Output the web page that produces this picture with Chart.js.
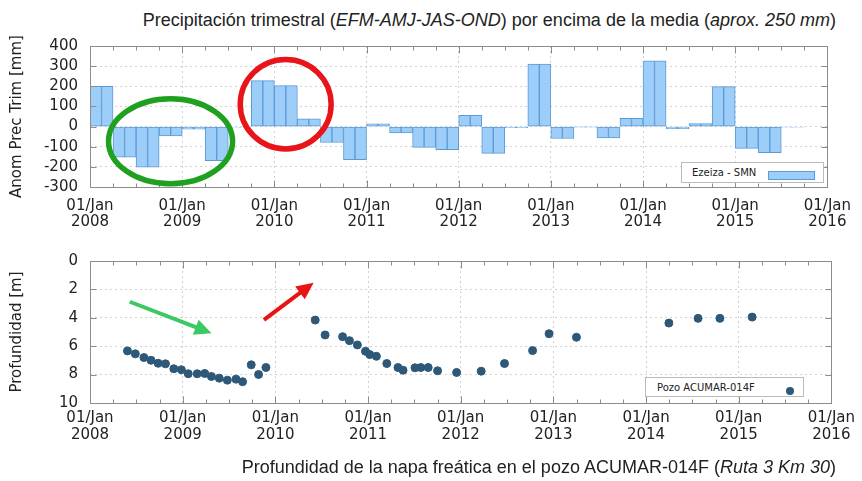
<!DOCTYPE html>
<html><head><meta charset="utf-8">
<script src="https://cdn.jsdelivr.net/npm/chart.js@4/dist/chart.umd.min.js"></script>
<style>
html,body{margin:0;padding:0;background:#fff;}
#wrap{position:relative;width:862px;height:481px;overflow:hidden;}
canvas{position:absolute;left:0;}
.title{position:absolute;right:26px;font-family:"Liberation Sans",Arial,sans-serif;font-size:18px;color:#222;white-space:nowrap;line-height:20px;}
.legend{position:absolute;background:#fff;border:1px solid #bbb;font-family:"DejaVu Sans";font-size:10px;line-height:13px;color:#222;box-sizing:border-box;}
.legend span{position:absolute;}
</style></head>
<body><div id="wrap">
<div class="title" style="top:10px">Precipitación trimestral (<i>EFM-AMJ-JAS-OND</i>) por encima de la media (<i>aprox. 250 mm</i>)</div>
<canvas id="cTop" width="862" height="240" style="top:0"></canvas>
<canvas id="cBot" width="862" height="241" style="top:240px"></canvas>
<div class="legend" style="left:681px;top:162px;width:143px;height:21px;">
  <span style="left:10px;top:3px">Ezeiza - SMN</span>
  <span style="left:86px;top:8px;width:47px;height:9px;background:#9dcdf9;border:1px solid #5b9bd5;box-sizing:border-box"></span>
</div>
<div class="legend" style="left:645px;top:377px;width:159px;height:20px;">
  <span style="left:11px;top:3px">Pozo ACUMAR-014F</span>
  <span style="left:140px;top:9px;width:8px;height:8px;border-radius:50%;background:#2e5878"></span>
</div>
<div class="title" style="top:457px">Profundidad de la napa freática en el pozo ACUMAR-014F (<i>Ruta 3 Km 30</i>)</div>
</div>
<script>
// ---- data ----
const precipQuarters = [
 'EFM 2008','AMJ 2008','JAS 2008','OND 2008',
 'EFM 2009','AMJ 2009','JAS 2009','OND 2009',
 'EFM 2010','AMJ 2010','JAS 2010','OND 2010',
 'EFM 2011','AMJ 2011','JAS 2011','OND 2011',
 'EFM 2012','AMJ 2012','JAS 2012','OND 2012',
 'EFM 2013','AMJ 2013','JAS 2013','OND 2013',
 'EFM 2014','AMJ 2014','JAS 2014','OND 2014',
 'EFM 2015','AMJ 2015','JAS 2015'];
const precipAnomaly = [
 200,-152,-202,-46,
 -13,-169,-3,228,
 203,39,-79,-164,
 13,-31,-103,-115,
 56,-133,-5,310,
 -59,-1,-56,41,
 326,-10,15,198,
 -108,-130,-2];
const wellDates = ['2008-05-28','2008-06-28','2008-08-01','2008-08-29','2008-09-26','2008-10-25','2008-11-27','2008-12-27',
 '2009-01-23','2009-02-27','2009-03-29','2009-04-24','2009-05-25','2009-06-26','2009-07-30','2009-08-25','2009-09-28','2009-10-27','2009-11-25',
 '2010-06-07','2010-07-16','2010-09-23','2010-10-20','2010-11-20','2010-12-22',
 '2011-01-08','2011-02-03','2011-03-16','2011-04-29','2011-05-19','2011-07-05','2011-07-28','2011-08-26','2011-10-02','2011-12-16',
 '2012-03-22','2012-06-22','2012-10-11','2012-12-15','2013-04-02','2014-04-01','2014-07-25','2014-10-19','2015-02-23'];
const wellDepth = [6.33,6.54,6.80,6.99,7.20,7.24,7.59,7.66,
 7.94,7.94,7.92,8.13,8.25,8.39,8.32,8.50,7.31,7.99,7.50,
 4.16,5.21,5.33,5.61,5.91,6.36,
 6.59,6.71,7.22,7.50,7.69,7.52,7.50,7.50,7.73,7.85,
 7.76,7.22,6.31,5.12,5.37,4.37,4.04,4.04,3.95];
const yearTicks = [2008,2009,2010,2011,2012,2013,2014,2015,2016];
const precipTicks = [-300,-200,-100,0,100,200,300,400];
const depthTicks = [0,2,4,6,8,10];

// ---- helpers ----
function quarterStart(label){ const [q,y]=label.split(' '); return +y + ['EFM','AMJ','JAS','OND'].indexOf(q)/4; }
function toYear(s){ const d=new Date(s+'T00:00:00Z'); const y=d.getUTCFullYear();
  const a=Date.UTC(y,0,1), b=Date.UTC(y+1,0,1); return y+(d-a)/(b-a); }

const barData = [];
precipQuarters.forEach((q,i)=>{ const s=quarterStart(q);
  barData.push({x:s+1/16,y:precipAnomaly[i]}); barData.push({x:s+3/16,y:precipAnomaly[i]}); });
const wellData = wellDates.map((d,i)=>({x:toYear(d), y:wellDepth[i]}));

// overlay marks (in data units)
const topOverlays = [
  {kind:'ellipse', x:2008.874, y:-73, rx:0.673, ry:211, color:'#1fa01f'},
  {kind:'ellipse', x:2010.123, y:111, rx:0.493, ry:222, color:'#e8141a'}];
const botOverlays = [
  {kind:'arrow', x0:2008.429, y0:2.87, x1:2009.312, y1:5.09, color:'#3cc864'},
  {kind:'arrow', x0:2009.877, y0:4.15, x1:2010.413, y1:1.53, color:'#e81414'}];

const TICKF = {family:'"DejaVu Sans"', size:15};
const INK = '#222';

const framePlugin = {
  id:'frame',
  afterDatasetsDraw(chart){
    const {ctx, chartArea:a, scales:{x,y}} = chart;
    ctx.save(); ctx.strokeStyle='#8c8c8c'; ctx.lineWidth=1;
    const L=Math.round(a.left)+0.5, R=Math.round(a.right)+0.5, T=Math.round(a.top)+0.5, B=Math.round(a.bottom)+0.5;
    ctx.beginPath();
    for(let k=0;k<=32;k++){ const v=2008+k/4; const px=Math.round(x.getPixelForValue(v))+0.5;
      const len=(k%4===0)?7:4;
      ctx.moveTo(px,B); ctx.lineTo(px,B-len); ctx.moveTo(px,T); ctx.lineTo(px,T+len); }
    y.ticks.forEach(t=>{ const py=Math.round(y.getPixelForValue(t.value))+0.5;
      ctx.moveTo(L,py); ctx.lineTo(L+6,py); ctx.moveTo(R,py); ctx.lineTo(R-6,py); });
    ctx.stroke();
    ctx.strokeRect(L,T,R-L,B-T);
    ctx.restore();
  }
};
const overlayPlugin = {
  id:'overlay',
  afterDraw(chart, args, opts){
    const {ctx, scales:{x,y}} = chart;
    (opts.items||[]).forEach(o=>{
      ctx.save();
      if(o.kind==='ellipse'){
        const cx=x.getPixelForValue(o.x), cy=y.getPixelForValue(o.y);
        const rx=Math.abs(x.getPixelForValue(o.x+o.rx)-cx), ry=Math.abs(y.getPixelForValue(o.y+o.ry)-cy);
        ctx.strokeStyle=o.color; ctx.lineWidth=5.5;
        ctx.beginPath(); ctx.ellipse(cx,cy,rx,ry,0,0,Math.PI*2); ctx.stroke();
      } else {
        const x0=x.getPixelForValue(o.x0), y0=y.getPixelForValue(o.y0), x1=x.getPixelForValue(o.x1), y1=y.getPixelForValue(o.y1);
        const ang=Math.atan2(y1-y0,x1-x0), hl=17, hw=8;
        ctx.strokeStyle=o.color; ctx.fillStyle=o.color; ctx.lineWidth=4;
        const bx=x1-Math.cos(ang)*hl, by=y1-Math.sin(ang)*hl;
        ctx.beginPath(); ctx.moveTo(x0,y0); ctx.lineTo(bx+Math.cos(ang)*2,by+Math.sin(ang)*2); ctx.stroke();
        ctx.beginPath(); ctx.moveTo(x1,y1);
        ctx.lineTo(bx+Math.sin(ang)*hw, by-Math.cos(ang)*hw);
        ctx.lineTo(bx-Math.sin(ang)*hw, by+Math.cos(ang)*hw);
        ctx.closePath(); ctx.fill();
      }
      ctx.restore();
    });
  }
};

function xScale(pad, lh, h){
  return {type:'linear', min:2008, max:2016, offset:false,
    afterBuildTicks(s){ s.ticks = yearTicks.map(v=>({value:v})); },
    afterFit(s){ s.height=h; },
    ticks:{autoSkip:false, maxRotation:0, color:INK, padding:pad, font:Object.assign({lineHeight:lh},TICKF),
      callback:v=>['01/Jan', String(v)]},
    grid:{color:'#d2d2d2', drawTicks:false, offset:false},
    border:{display:false, dash:[2,3]}};
}
function yScale(ticksArr, title, reverse){
  return {type:'linear', min:Math.min(...ticksArr), max:Math.max(...ticksArr), reverse,
    afterBuildTicks(s){ s.ticks = ticksArr.map(v=>({value:v})); },
    afterFit(s){ s.width=90; },
    title:{display:true, text:title, color:INK, font:TICKF, padding:{top:8,bottom:0}},
    ticks:{autoSkip:false, color:INK, padding:12, font:TICKF},
    grid:{color:'#d2d2d2', drawTicks:false},
    border:{display:false, dash:[2,3]}};
}

new Chart(document.getElementById('cTop'), {
  type:'bar',
  data:{datasets:[{label:'Ezeiza - SMN', data:barData, backgroundColor:'#9dcdf9', borderColor:'#5b9bd5',
    borderWidth:1, borderSkipped:false, categoryPercentage:1, barPercentage:1}]},
  options:{responsive:false, devicePixelRatio:1, animation:false,
    layout:{padding:{top:46,right:26,left:0,bottom:0}},
    plugins:{legend:{display:false}, tooltip:{enabled:false}, overlay:{items:topOverlays}},
    scales:{x:xScale(11,1.05,53), y:yScale(precipTicks,'Anom Prec Trim [mm]',false)}},
  plugins:[framePlugin, overlayPlugin]
});
new Chart(document.getElementById('cBot'), {
  type:'scatter',
  data:{datasets:[{label:'Pozo ACUMAR-014F', data:wellData, backgroundColor:'#2e5878', borderColor:'#2e5878',
    pointRadius:4, pointHoverRadius:4}]},
  options:{responsive:false, devicePixelRatio:1, animation:false,
    layout:{padding:{top:21,right:26,left:0,bottom:0}},
    plugins:{legend:{display:false}, tooltip:{enabled:false}, overlay:{items:botOverlays}},
    scales:{x:xScale(7,1.1,78), y:yScale(depthTicks,'Profundidad [m]',true)}},
  plugins:[framePlugin, overlayPlugin]
});
</script>
</body></html>
